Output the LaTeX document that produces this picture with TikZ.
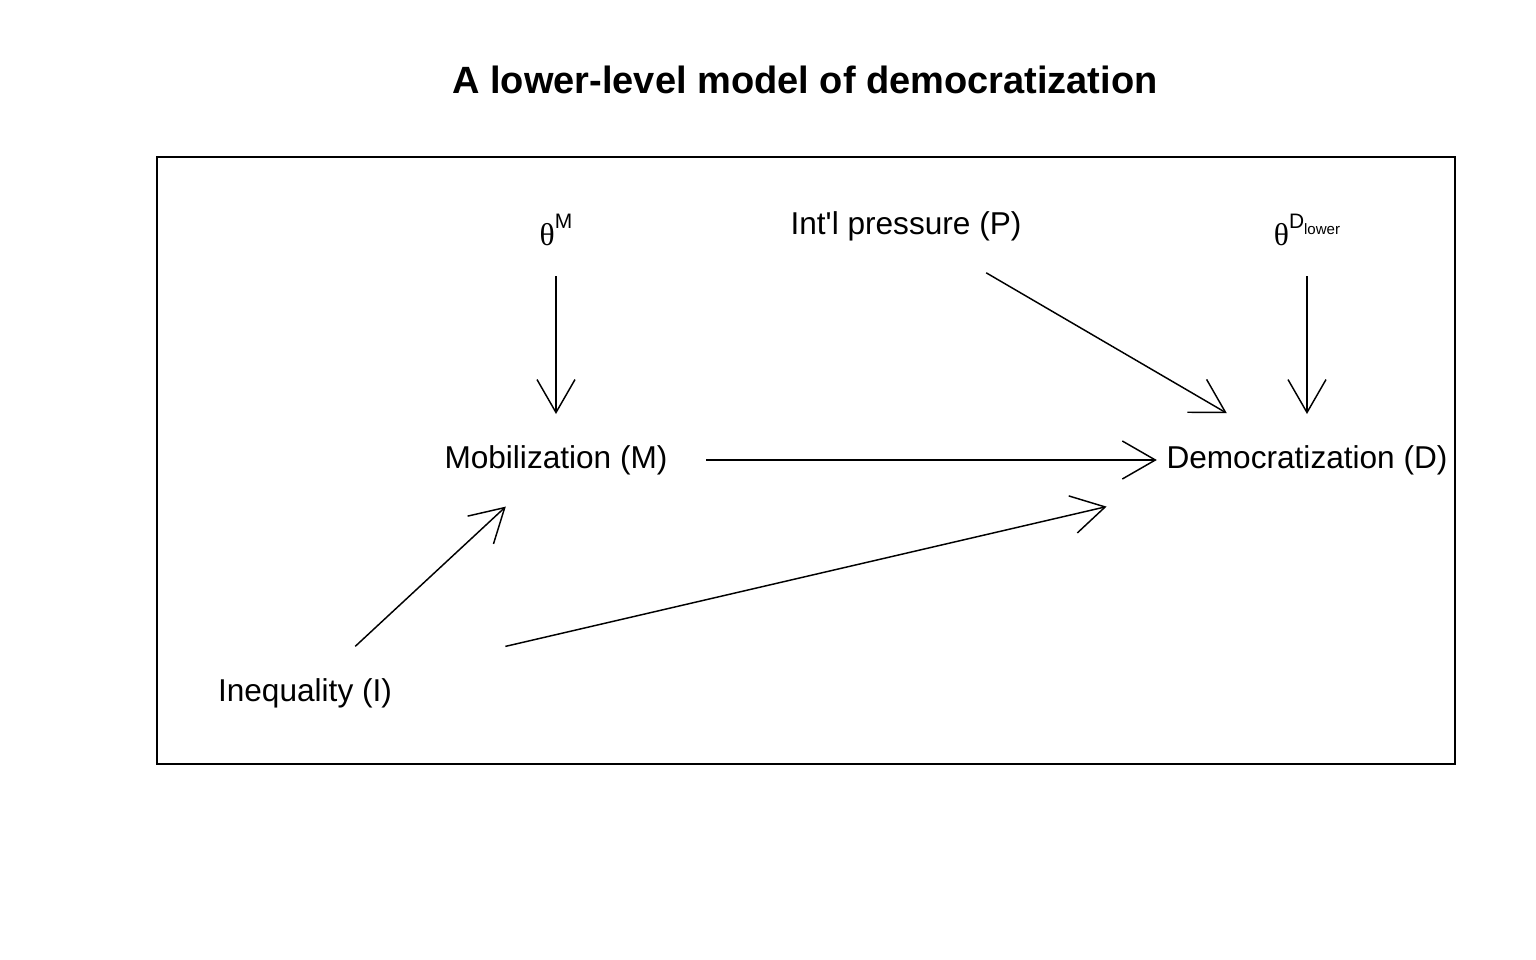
\documentclass[tikz,border=0pt]{standalone}
\usepackage{fontspec}
\setmainfont{Liberation Sans}[Ligatures=TeXOff]
\newfontfamily\grk{Liberation Serif}
\usetikzlibrary{arrows.meta,calc}
\tikzset{
  lbl/.style={inner sep=0pt, font=\fontsize{23.7}{26}\selectfont},
  arr/.style={line width=1.1pt, -{Straight Barb[length=24.75pt, width=28.5pt, line width=1.1pt]}},
}
\newcommand{\conn}[2]{\draw[arr] ($(#1)!0.2!(#2)$) -- ($(#1)!0.8!(#2)$);}
\begin{document}
\begin{tikzpicture}[x=0.75pt,y=-0.75pt]
\useasboundingbox (0,0) rectangle (1536,960);
\node[font=\fontsize{28.5}{32}\selectfont\bfseries] (title) at (805,80) {A lower-level model of democratization};
\draw[line width=1.1pt] (157,157) rectangle (1455,764);
\node[lbl] (thM) at (556,230) {{\grk θ}\raisebox{0.55em}{\fontsize{15.7}{16}\selectfont M}};
\node[lbl] (P) at (906,226) {Int'l pressure (P)};
\node[lbl] (thD) at (1307,230) {{\grk θ}\raisebox{0.55em}{\fontsize{15.7}{16}\selectfont D\raisebox{-0.3em}{\fontsize{11.3}{12}\selectfont lower}}};
\node[lbl] (M) at (556,460) {Mobilization (M)};
\node[lbl] (D) at (1307,460) {Democratization (D)};
\node[lbl] (I) at (305,693) {Inequality (I)};
\conn{thM}{M}
\conn{P}{D}
\conn{thD}{D}
\conn{M}{D}
\conn{I}{M}
\conn{I}{D}
\end{tikzpicture}
\end{document}
